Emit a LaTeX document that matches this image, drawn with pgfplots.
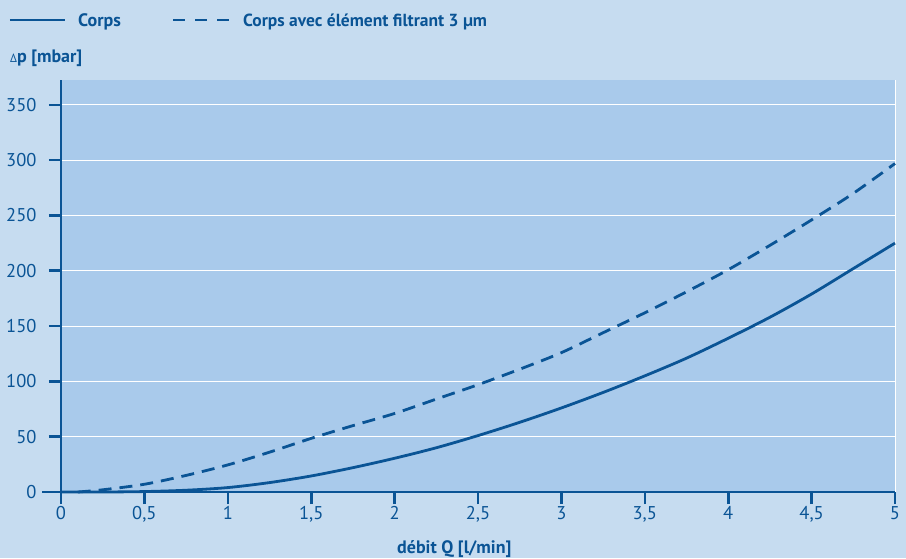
\documentclass[border=0pt]{standalone}
\usepackage{pgfplots}
\pgfplotsset{compat=1.18}
\usepackage{fontspec}
\setmainfont{PT Sans}
\definecolor{outerbg}{HTML}{C6DCF0}
\definecolor{innerbg}{HTML}{A9CAEB}
\definecolor{fblue}{HTML}{0A5495}

\begin{document}
\begin{tikzpicture}[x=1pt,y=1pt]
% whole picture: 906 x 558, axis box corner at (0,0)
\fill[outerbg] (-61,-66) rectangle (845,492);
\begin{axis}[
    at={(0,0)}, anchor=south west,
    scale only axis, width=834pt, height=412pt,
    xmin=0, xmax=5, ymin=0, ymax=372.5,
    axis background/.style={fill=innerbg},
    axis lines*=left,
    axis line style={fblue, line width=2.8pt},
    ymajorgrids,
    grid style={white, line width=1pt},
    tick align=outside,
    major tick length=12pt,
    every tick/.append style={fblue, line width=2.6pt},
    xtick={0,0.5,...,5},
    ytick={0,50,...,350},
    /pgf/number format/use comma,
    /pgf/number format/assume math mode=true,
    tick label style={font=\fontsize{18.5}{20}\selectfont, text=fblue},
    yticklabel style={anchor=east, xshift=-9pt},
    xticklabel style={yshift=1pt},
    clip=false,
]
\draw[white, line width=1pt] (axis cs:5,0) -- (axis cs:5,372.5);
\draw[fblue, line width=2.6pt] (axis cs:0,0) -- ++(-19pt,0);
\addplot[fblue, line width=2.8pt, smooth] coordinates {
    (0,0) (0.25,0) (0.5,0.4) (0.75,1.6) (1,4) (1.25,8.5) (1.5,14.5)
    (1.75,22) (2,30.5) (2.25,40) (2.5,51) (2.75,63) (3,76) (3.25,90)
    (3.5,105) (3.75,121) (4,139) (4.25,158) (4.5,179) (4.75,202) (5,225)};
\addplot[fblue, line width=2.8pt, smooth, dash pattern=on 13pt off 8pt] coordinates {
    (0.1,0) (0.25,2) (0.5,7) (0.75,15) (1,24.5) (1.25,36) (1.5,48.5)
    (1.75,60) (2,71) (2.25,84) (2.5,97) (2.75,111) (3,126) (3.25,144)
    (3.5,162) (3.75,181) (4,201) (4.25,223) (4.5,246) (4.75,270) (5,297)};
\end{axis}
% legend and titles
\draw[fblue, line width=2.8pt] (-51,472) -- (4,472);
\node[anchor=base west, inner sep=0pt, text=fblue, font=\fontsize{18}{20}\selectfont\bfseries] at (17,465) {Corps};
\draw[fblue, line width=2.8pt, dash pattern=on 12pt off 10pt] (112,472) -- (168,472);
\node[anchor=base west, inner sep=0pt, text=fblue, font=\fontsize{17.5}{20}\selectfont\bfseries] at (182,465) {Corps avec élément filtrant 3 µm};
\node[anchor=base west, inner sep=0pt, text=fblue, font=\fontsize{18}{20}\selectfont\bfseries] at (-51,429) {{\fontsize{12}{12}\selectfont\mdseries Δ}p [mbar]};
\node[anchor=base west, inner sep=0pt, text=fblue, font=\fontsize{18}{20}\selectfont\bfseries] at (336,-61) {débit Q [l/min]};
\pgfresetboundingbox
\useasboundingbox (-61,-66) rectangle (845,492);
\end{tikzpicture}
\end{document}
